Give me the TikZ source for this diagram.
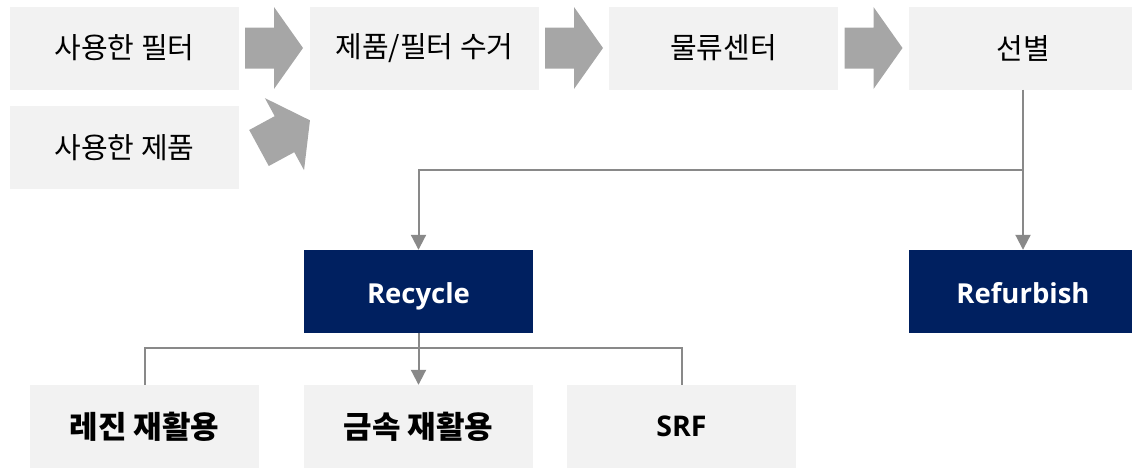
\documentclass[tikz,border=0pt]{standalone}
\usepackage{fontspec}
\setmainfont{Noto Sans CJK KR}
\newfontfamily\latinbold{Open Sans}[BoldFont={* Bold}]
\usetikzlibrary{arrows.meta}
\definecolor{boxgray}{HTML}{F2F2F2}
\definecolor{arrowgray}{HTML}{A6A6A6}
\definecolor{navy}{HTML}{002060}
\definecolor{linegray}{HTML}{898989}
\tikzset{
  lightbox/.style={fill=boxgray, draw=none, minimum width=229pt, minimum height=83pt, inner sep=0pt, font=\fontsize{29}{34}\selectfont, text=black},
  boldbox/.style={lightbox, font=\fontsize{31}{36}\selectfont\bfseries},
  navybox/.style={fill=navy, draw=none, minimum width=229pt, minimum height=83pt, inner sep=0pt, text=white, text height=24pt, text depth=0pt, font=\latinbold\fontsize{27.5}{32}\selectfont\bfseries},
  conn/.style={draw=linegray, line width=2pt},
  connarrow/.style={conn, -{Triangle[width=15pt,length=15pt]}},
  blockarrow/.style={fill=arrowgray, draw=none}
}
\newcommand{\blockarr}[1]{\fill[blockarrow,#1] (0,-20.5) -- (29,-20.5) -- (29,-41) -- (58,0) -- (29,41) -- (29,20.5) -- (0,20.5) -- cycle;}
\begin{document}
\begin{tikzpicture}[x=1pt,y=-1pt]
\useasboundingbox (0,0) rectangle (1132,469);
\clip (0,0) rectangle (1132,469);
% top row
\node[lightbox] (f1) at (124.5,48) {사용한 필터};
\node[lightbox] (p1) at (124.5,147.5) {사용한 제품};
\node[lightbox] (f2) at (424.5,48) {제품/필터 수거};
\node[lightbox] (f3) at (723.5,48) {물류센터};
\node[lightbox, minimum width=228pt] (f4) at (1023,48) {선별};
% block arrows
\blockarr{shift={(245,48)}}
\blockarr{shift={(545,48)}}
\blockarr{shift={(844.5,48)}}
\blockarr{shift={(259,148)}, rotate=28.5}
% second level
\node[navybox] (rec) at (418.5,291.5) {Recycle};
\node[navybox, minimum width=228pt] (ref) at (1023,291.5) {Refurbish};
% bottom
\node[boldbox] (b1) at (144.5,426.5) {레진 재활용};
\node[boldbox] (b2) at (418.5,426.5) {금속 재활용};
\node[boldbox, font=\latinbold\fontsize{28.5}{33}\selectfont\bfseries] (b3) at (681.5,426.5) {SRF};
% connectors
\coordinate (j1) at (1023,170);
\coordinate (j2) at (418.5,348);
\draw[connarrow] (f4.south) -- (ref.north);
\draw[connarrow] (j1) -| (rec.north);
\draw[connarrow] (rec.south) -- (b2.north);
\draw[conn] (b1.north) |- (j2) -| (b3.north);
\end{tikzpicture}
\end{document}
